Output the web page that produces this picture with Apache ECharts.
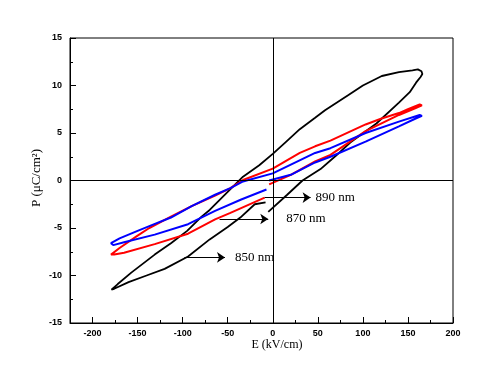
<!DOCTYPE html>
<html><head><meta charset="utf-8">
<script src="https://cdn.jsdelivr.net/npm/echarts@6/dist/echarts.min.js"></script>
<style>html,body{margin:0;padding:0;background:#fff}#c{width:502px;height:379px}</style>
</head><body><div id="c"></div>
<script>
// ---- data ----
const xMajorTicks = [-200, -150, -100, -50, 0, 50, 100, 150, 200];
const xMinorTicks = [-175, -125, -75, -25, 25, 75, 125, 175];
const yTickLabels = [-15, -10, -5, 0, 5, 10, 15];

const black850E = [-5, 16, 33, 53, 70, 86, 115, 140, 152, 159, 164, 166, 165, 161, 155, 140, 121, 100, 84, 58, 47, 30, 15, 0, -15, -33, -50, -70, -79, -95, -113, -131, -157, -172, -179, -176, -160, -140, -120, -94, -70, -50, -36, -20, -8];
const black850P = [-3.3, -1.5, 0, 1.2, 2.6, 4.0, 6.0, 8.2, 9.3, 10.3, 10.9, 11.2, 11.5, 11.7, 11.6, 11.4, 11.0, 10.0, 9.0, 7.4, 6.6, 5.4, 4.1, 2.8, 1.6, 0.4, -1.2, -3.1, -3.8, -5.3, -6.6, -7.8, -9.7, -10.9, -11.5, -11.4, -10.7, -10.0, -9.3, -8.0, -6.2, -4.9, -3.9, -2.5, -2.3];

const red870E = [-4, 20, 47, 64, 103, 140, 158, 165.5, 163, 150, 140, 120, 103, 64, 47, 30, 0, -33, -47, -64, -90, -113, -137, -150, -170, -179.5, -176, -165, -131, -94, -64, -47, -9];
const red870P = [-0.4, 0.6, 2.0, 2.7, 5.2, 6.9, 7.6, 7.9, 8.0, 7.5, 7.1, 6.5, 5.9, 4.2, 3.6, 2.9, 1.25, 0.05, -0.8, -1.6, -2.7, -3.8, -5.0, -5.8, -7.1, -7.8, -7.8, -7.6, -6.7, -5.6, -4.1, -3.4, -1.8];

const blue890E = [-4, 20, 47, 64, 103, 140, 158, 165.5, 163, 140, 103, 64, 47, 0, -33, -47, -64, -90, -113, -137, -150, -170, -179.5, -177, -165, -131, -94, -64, -35, -7];
const blue890P = [0.0, 0.6, 1.9, 2.5, 4.1, 5.7, 6.5, 6.8, 6.9, 6.2, 5.0, 3.4, 2.9, 0.75, -0.1, -0.8, -1.5, -2.7, -3.9, -4.8, -5.3, -6.1, -6.6, -6.8, -6.5, -5.7, -4.6, -3.2, -2.0, -0.95];

const annotationLabels = ['890 nm', '870 nm', '850 nm'];
const arrowStartE = [-9, -59, -98];
const arrowEndE = [42, -5, -53];
const arrowP = [-1.8, -4.05, -8.1];

// ---- build ----
const zip = (a, b) => a.map((v, i) => [v, b[i]]);
const labelGap = [5, 18, 10];
const arrowData = annotationLabels.map((t, i) => [
  { coord: [arrowStartE[i], arrowP[i]] },
  { coord: [arrowEndE[i], arrowP[i]],
    label: { show: true, position: 'end', formatter: t, distance: labelGap[i],
             color: '#000', fontFamily: 'Liberation Serif', fontSize: 13 } }
]);

const tickFont = { color: '#000', fontSize: 9, fontFamily: 'Liberation Sans', fontWeight: 'bold' };
const chart = echarts.init(document.getElementById('c'), null, { renderer: 'canvas' });
chart.setOption({
  animation: false,
  backgroundColor: '#fff',
  grid: { left: 70, right: 49, top: 38, bottom: 56, show: true, borderColor: '#000', borderWidth: 1, backgroundColor: 'transparent' },
  xAxis: [
    { type: 'value', min: -225, max: 200, position: 'bottom',
      axisLine: { show: true, onZero: false, lineStyle: { color: '#000', width: 1 } },
      axisTick: { show: true, inside: true, length: 6, customValues: xMajorTicks, lineStyle: { color: '#000', width: 1 } },
      axisLabel: Object.assign({ customValues: xMajorTicks, margin: 6 }, tickFont),
      splitLine: { show: false } },
    { type: 'value', min: -225, max: 200, position: 'bottom',
      axisLine: { show: false, onZero: false },
      axisTick: { show: true, inside: true, length: 3, customValues: xMinorTicks, lineStyle: { color: '#000', width: 1 } },
      axisLabel: { show: false },
      splitLine: { show: false } }
  ],
  yAxis: { type: 'value', min: yTickLabels[0], max: yTickLabels[yTickLabels.length - 1], interval: 5,
    axisLine: { show: true, onZero: false, lineStyle: { color: '#000', width: 1 } },
    axisTick: { show: true, inside: true, length: 6, lineStyle: { color: '#000', width: 1 } },
    minorTick: { show: true, splitNumber: 2, length: 3, lineStyle: { color: '#000', width: 1 } },
    axisLabel: Object.assign({ margin: 8 }, tickFont),
    splitLine: { show: false } },
  graphic: [
    { type: 'text', x: 37, y: 178, rotation: Math.PI / 2,
      style: { text: 'P (μC/cm²)', font: '13px "Liberation Serif"', fill: '#000', align: 'center', verticalAlign: 'middle', textAlign: 'center', textVerticalAlign: 'middle' } },
    { type: 'text', x: 277, y: 345,
      style: { text: 'E (kV/cm)', font: '12px "Liberation Serif"', fill: '#000', align: 'center', verticalAlign: 'middle', textAlign: 'center', textVerticalAlign: 'middle' } }
  ],
  series: [
    { name: '850 nm', type: 'line', data: zip(black850E, black850P), showSymbol: false, symbol: 'none',
      lineStyle: { color: '#000', width: 1.8 }, itemStyle: { color: '#000' }, silent: true,
      markLine: { silent: true, symbol: 'none', animation: false,
        label: { show: false }, lineStyle: { color: '#000', width: 1, type: 'solid' },
        emphasis: { disabled: true },
        data: [{ xAxis: 0 }, { yAxis: 0 }] } },
    { name: '870 nm', type: 'line', data: zip(red870E, red870P), showSymbol: false, symbol: 'none',
      lineStyle: { color: '#ff0000', width: 2 }, itemStyle: { color: '#ff0000' }, silent: true },
    { name: '890 nm', type: 'line', data: zip(blue890E, blue890P), showSymbol: false, symbol: 'none',
      lineStyle: { color: '#0000ff', width: 2 }, itemStyle: { color: '#0000ff' }, silent: true,
      markLine: { silent: true, symbol: ['none', 'arrow'], symbolSize: 8, animation: false,
        lineStyle: { color: '#000', width: 1, type: 'solid' },
        emphasis: { disabled: true },
        data: arrowData } }
  ]
});
</script></body></html>
